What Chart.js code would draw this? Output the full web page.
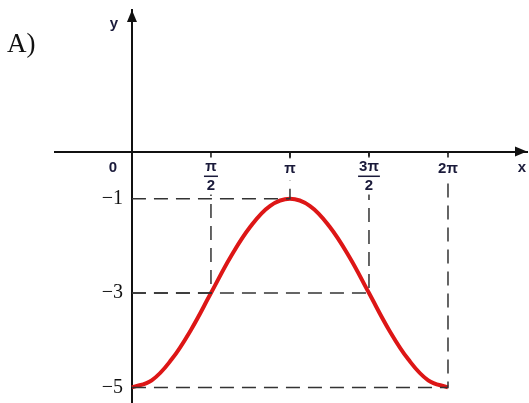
<!DOCTYPE html>
<html>
<head>
<meta charset="utf-8">
<script src="https://cdn.jsdelivr.net/npm/chart.js@4/dist/chart.umd.min.js"></script>
<style>
  body { margin: 0; background: #fff; }
  #wrap { position: relative; width: 529px; height: 403px; }
  #tag { position: absolute; left: 7px; top: 28px; font: 27px "Liberation Serif", serif; color: #111; }
</style>
</head>
<body>
<div id="wrap">
  <canvas id="graph" width="529" height="403"></canvas>
  <div id="tag">A)</div>
</div>
<script>
// x in units of pi
var curveX = [0, 0.125, 0.25, 0.375, 0.5, 0.625, 0.75, 0.875, 1, 1.125, 1.25, 1.375, 1.5, 1.625, 1.75, 1.875, 2];
var curveY = [-5, -4.85, -4.41, -3.77, -3, -2.23, -1.59, -1.15, -1, -1.15, -1.59, -2.23, -3, -3.77, -4.41, -4.85, -5];

// points marked with dashed guides
var markX = [0.5, 1, 1.5, 2];
var markY = [-3, -1, -3, -5];

// tick labels
var xTickValues = [0, 0.5, 1, 1.5, 2];
var xTickTop = ['0', 'π', 'π', '3π', '2π'];
var xTickBottom = ['', '2', '', '2', ''];
var yTickValues = [-1, -3, -5];
var yTickLabels = ['−1', '−3', '−5'];

var xName = 'x';
var yName = 'y';

var datasets = [{
    data: curveX.map(function (v, i) { return { x: v, y: curveY[i] }; }),
    borderColor: '#dd1616',
    borderWidth: 4,
    pointRadius: 0,
    tension: 0.4,
    fill: false
}];
markX.forEach(function (mx, i) {
    datasets.push({
        data: [{ x: 0, y: markY[i] }, { x: mx, y: markY[i] }, { x: mx, y: 0 }],
        borderColor: '#333',
        borderWidth: 1.5,
        borderDash: [14, 8],
        pointRadius: 0,
        tension: 0,
        fill: false
    });
});
datasets.reverse();

var axisDecor = {
    id: 'axisDecor',
    afterDatasetsDraw: function (chart) {
        var ctx = chart.ctx, area = chart.chartArea;
        var xs = chart.scales.x, ys = chart.scales.y;
        var x0 = xs.getPixelForValue(0), y0 = ys.getPixelForValue(0);
        ctx.save();
        ctx.fillStyle = '#111';
        ctx.strokeStyle = '#111';
        // arrow heads
        ctx.beginPath();
        ctx.moveTo(x0, area.top);
        ctx.lineTo(x0 - 5, area.top + 12);
        ctx.lineTo(x0 + 5, area.top + 12);
        ctx.closePath();
        ctx.fill();
        ctx.beginPath();
        ctx.moveTo(area.right, y0);
        ctx.lineTo(area.right - 12, y0 - 5);
        ctx.lineTo(area.right - 12, y0 + 5);
        ctx.closePath();
        ctx.fill();
        // axis names
        ctx.font = 'bold 15px "Liberation Sans", sans-serif';
        ctx.textAlign = 'center';
        ctx.textBaseline = 'middle';
        ctx.fillStyle = '#1a1a3a';
        ctx.fillText(xName, area.right - 5, y0 + 16);
        ctx.fillText(yName, x0 - 18, area.top + 14);
        // x ticks and fraction labels
        ctx.lineWidth = 1.5;
        ctx.font = 'bold 15px "Liberation Sans", sans-serif';
        xTickValues.forEach(function (v, i) {
            var px = xs.getPixelForValue(v);
            if (v === 0) {
                ctx.fillStyle = '#1a1a3a';
                ctx.fillText(xTickTop[i], px - 19, y0 + 16);
                return;
            }
            ctx.strokeStyle = '#111';
            ctx.beginPath();
            ctx.moveTo(px, y0);
            ctx.lineTo(px, y0 + 6);
            ctx.stroke();
            var w = Math.max(ctx.measureText(xTickTop[i]).width, 12) + 6;
            ctx.fillStyle = '#fff';
            if (xTickBottom[i]) {
                ctx.fillRect(px - w / 2, y0 + 7, w, 36);
                ctx.fillStyle = '#1a1a3a';
                ctx.fillText(xTickTop[i], px, y0 + 15);
                ctx.fillRect(px - w / 2 + 2, y0 + 24, w - 4, 1.5);
                ctx.fillText(xTickBottom[i], px, y0 + 34);
            } else {
                ctx.fillRect(px - w / 2, y0 + 7, w, 22);
                ctx.fillStyle = '#1a1a3a';
                ctx.fillText(xTickTop[i], px, y0 + 17);
            }
        });
        // y labels
        ctx.font = '20px "Liberation Serif", serif';
        ctx.fillStyle = '#111';
        ctx.textAlign = 'right';
        yTickValues.forEach(function (v, i) {
            ctx.fillText(yTickLabels[i], x0 - 9, ys.getPixelForValue(v));
        });
        ctx.restore();
    }
};

new Chart(document.getElementById('graph').getContext('2d'), {
    type: 'line',
    data: { datasets: datasets },
    plugins: [axisDecor],
    options: {
        responsive: false,
        animation: false,
        layout: { padding: { left: 55, right: 2, top: 10, bottom: 0 } },
        plugins: { legend: { display: false }, tooltip: { enabled: false } },
        scales: {
            x: {
                type: 'linear',
                min: -0.487,
                max: 2.5,
                position: { y: 0 },
                grid: { display: false },
                ticks: { display: false },
                border: { display: true, color: '#111', width: 2 }
            },
            y: {
                type: 'linear',
                min: -5.33,
                max: 3.0,
                position: { x: 0 },
                grid: { display: false },
                ticks: { display: false },
                border: { display: true, color: '#111', width: 2 }
            }
        }
    }
});
</script>
</body>
</html>
